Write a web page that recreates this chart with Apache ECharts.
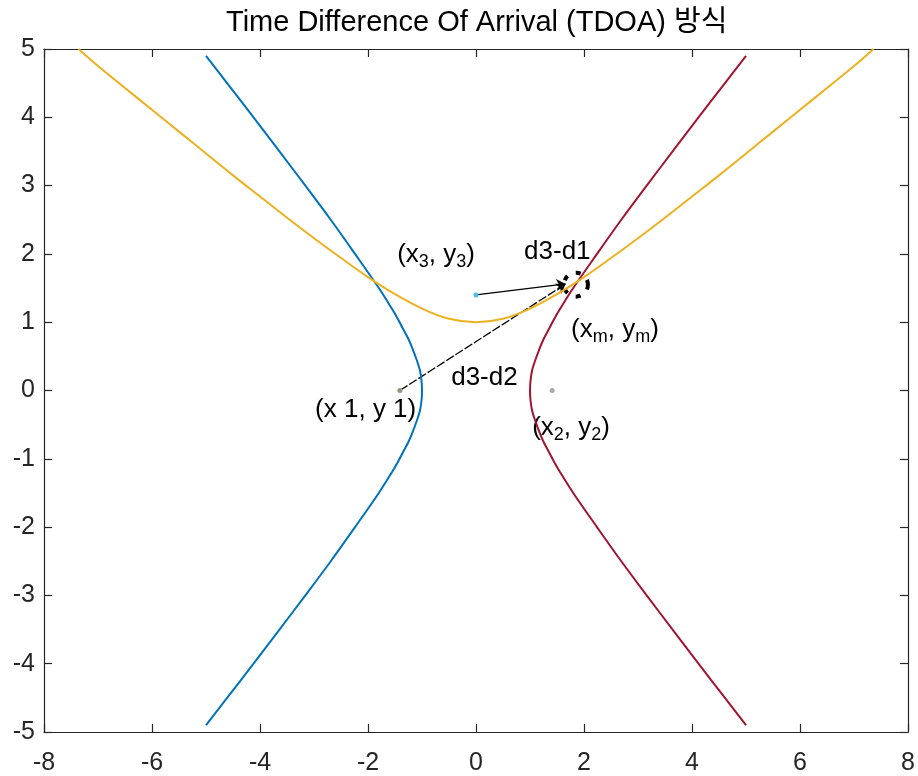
<!DOCTYPE html>
<html>
<head>
<meta charset="utf-8">
<script src="https://cdn.jsdelivr.net/npm/echarts@6/dist/echarts.min.js"></script>
<style>html,body{margin:0;padding:0;background:#fff;}#c{width:918px;height:776px;}</style>
</head>
<body>
<div id="c"></div>
<script>
// ---- data ----
const titleText = 'Time Difference Of Arrival (TDOA) 방식';
const xTicks = [-8, -6, -4, -2, 0, 2, 4, 6, 8];
const yTicks = [-5, -4, -3, -2, -1, 0, 1, 2, 3, 4, 5];

// blue branch (left)
const blueY = [4.9, 4.5, 4.0, 3.5, 3.0, 2.5, 2.0, 1.5, 1.2, 1.05, 0.9, 0.75, 0.6, 0.45, 0.3, 0.15, 0, -0.15, -0.3, -0.45, -0.6, -0.75, -0.9, -1.05, -1.2, -1.5, -2.0, -2.5, -3.0, -3.5, -4.0, -4.5, -4.9];
const blueX = [-5.00, -4.61, -4.12, -3.64, -3.16, -2.69, -2.24, -1.80, -1.56, -1.45, -1.35, -1.25, -1.17, -1.10, -1.04, -1.01, -1.00, -1.01, -1.04, -1.10, -1.17, -1.25, -1.35, -1.45, -1.56, -1.80, -2.24, -2.69, -3.16, -3.64, -4.12, -4.61, -5.00];
// red branch (right)
const redY = [4.9, 4.5, 4.0, 3.5, 3.0, 2.5, 2.0, 1.5, 1.2, 1.05, 0.9, 0.75, 0.6, 0.45, 0.3, 0.15, 0, -0.15, -0.3, -0.45, -0.6, -0.75, -0.9, -1.05, -1.2, -1.5, -2.0, -2.5, -3.0, -3.5, -4.0, -4.5, -4.9];
const redX = [5.00, 4.61, 4.12, 3.64, 3.16, 2.69, 2.24, 1.80, 1.56, 1.45, 1.35, 1.25, 1.17, 1.10, 1.04, 1.01, 1.00, 1.01, 1.04, 1.10, 1.17, 1.25, 1.35, 1.45, 1.56, 1.80, 2.24, 2.69, 3.16, 3.64, 4.12, 4.61, 5.00];
// yellow branch (upper)
const yellowX = [-7.36, -7, -6.5, -6, -5.5, -5, -4.5, -4, -3.5, -3, -2.5, -2, -1.5, -1, -0.5, 0, 0.5, 1, 1.5, 2, 2.5, 3, 3.5, 4, 4.5, 5, 5.5, 6, 6.5, 7, 7.36];
const yellowY = [5.00, 4.75, 4.43, 4.11, 3.79, 3.47, 3.15, 2.84, 2.53, 2.23, 1.94, 1.66, 1.41, 1.20, 1.05, 1.00, 1.05, 1.20, 1.41, 1.66, 1.94, 2.23, 2.53, 2.84, 3.15, 3.47, 3.79, 4.11, 4.43, 4.75, 5.00];

// receivers (x1,y1), (x2,y2), (x3,y3)
const sensorX = [-1.41, 1.41, 0];
const sensorY = [0, 0, 1.4];
const sensorColor = ['#8d9a7c', '#a9a9a9', '#4DBEEE'];

// estimated target (xm, ym)
const targetX = [1.85];
const targetY = [1.55];

// arrows: d3-d1 from (x3,y3), d3-d2 from (x1,y1)
const arrowFromX = [0, -1.41];
const arrowFromY = [1.4, 0];
const arrowToX = [1.66, 1.66];
const arrowToY = [1.56, 1.56];

// text labels
const labelText = ['{m|(x}{s|3}{m|, y}{s|3}{m|)}', 'd3-d1', '{m|(x}{s|m}{m|, y}{s|m}{m|)}', 'd3-d2', '(x 1, y 1)', '{m|(x}{s|2}{m|, y}{s|2}{m|)}'];
const labelX = [-1.46, 0.89, 1.76, -0.46, -2.98, 1.04];
const labelY = [1.99, 2.03, 0.89, 0.19, -0.29, -0.55];

// ---- chart ----
const FONT = "'Liberation Sans', 'Noto Sans CJK KR', sans-serif";
const AX = '#262626';
const TXT = '#000';
const zip = (xs, ys) => xs.map((x, i) => [x, ys[i]]);

const chart = echarts.init(document.getElementById('c'), null, {renderer: 'canvas'});

function axisCommon(extra) {
  return Object.assign({
    type: 'value',
    axisLine: {show: true, onZero: false, lineStyle: {color: AX, width: 1.2}},
    axisTick: {show: true, inside: true, length: 8, lineStyle: {color: AX, width: 1.2}},
    splitLine: {show: false},
    axisLabel: {show: false}
  }, extra);
}

const option = {
  animation: false,
  backgroundColor: '#fff',
  title: {
    text: titleText,
    left: 226,
    top: 6,
    padding: 0,
    textStyle: {fontFamily: FONT, fontSize: 29, fontWeight: 'normal', color: '#000', lineHeight: 34}
  },
  grid: {left: 44, right: 8, top: 49, bottom: 43},
  xAxis: [
    axisCommon({position: 'bottom', min: xTicks[0], max: xTicks[xTicks.length - 1], interval: 2,
      axisLabel: {show: true, fontFamily: FONT, fontSize: 25, color: AX, margin: 19}}),
    axisCommon({position: 'top', min: xTicks[0], max: xTicks[xTicks.length - 1], interval: 2})
  ],
  yAxis: [
    axisCommon({position: 'left', min: yTicks[0], max: yTicks[yTicks.length - 1], interval: 1,
      axisLabel: {show: true, fontFamily: FONT, fontSize: 25, color: AX, margin: 9}}),
    axisCommon({position: 'right', min: yTicks[0], max: yTicks[yTicks.length - 1], interval: 1})
  ],
  series: [
    {type: 'line', data: zip(blueX, blueY), smooth: 0.35, showSymbol: false, silent: true,
      lineStyle: {color: '#0072BD', width: 2}},
    {type: 'line', data: zip(redX, redY), smooth: 0.35, showSymbol: false, silent: true,
      lineStyle: {color: '#A2142F', width: 2}},
    {type: 'line', data: zip(yellowX, yellowY), smooth: 0.35, showSymbol: false, silent: true,
      lineStyle: {color: '#EDB120', width: 2}},
    {type: 'lines', coordinateSystem: 'cartesian2d', silent: true, polyline: false,
      symbol: ['none', 'arrow'], symbolSize: 9,
      data: [
        {coords: [[arrowFromX[0], arrowFromY[0]], [arrowToX[0], arrowToY[0]]],
          lineStyle: {color: '#000', width: 1.3, type: 'solid'}},
        {coords: [[arrowFromX[1], arrowFromY[1]], [arrowToX[1], arrowToY[1]]],
          lineStyle: {color: '#000', width: 1.3, type: [9, 2]}}
      ],
      lineStyle: {color: '#000', width: 1.3, opacity: 1, curveness: 0}},
    {type: 'scatter', silent: true, symbol: 'circle', symbolSize: 5,
      data: sensorX.map((x, i) => ({value: [x, sensorY[i]], itemStyle: {color: sensorColor[i], opacity: 1}}))},
    {type: 'scatter', silent: true, symbol: 'circle', symbolSize: 24,
      data: zip(targetX, targetY),
      itemStyle: {color: 'rgba(0,0,0,0)', opacity: 1, borderColor: '#000', borderWidth: 4, borderType: [5, 9]}},
    {type: 'scatter', silent: true, symbolSize: 0,
      itemStyle: {opacity: 1},
      data: labelText.map((t, i) => ({value: [labelX[i], labelY[i]], name: t})),
      label: {
        show: true, position: 'right', distance: 0, opacity: 1,
        formatter: p => p.name,
        fontFamily: FONT, fontSize: 26, color: TXT, lineHeight: 32,
        rich: {
          m: {fontFamily: FONT, fontSize: 26, color: TXT, lineHeight: 32},
          s: {fontFamily: FONT, fontSize: 18, color: TXT, verticalAlign: 'bottom'}
        }
      }}
  ]
};
chart.setOption(option);
</script>
</body>
</html>
